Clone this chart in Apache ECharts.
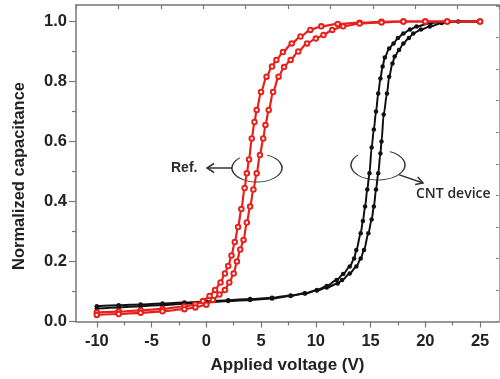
<!DOCTYPE html>
<html>
<head>
<meta charset="utf-8">
<script src="https://cdn.jsdelivr.net/npm/echarts@6/dist/echarts.min.js"></script>
<style>
  html, body { margin: 0; padding: 0; background: #fff; }
  #chart { width: 500px; height: 379px; }
</style>
</head>
<body>
<div id="chart"></div>
<script>
// Ref. device, two sweep branches (voltage V, normalized capacitance)
const refUpV = [-10,-8,-6,-4,-2,-1,-0.3,0.3,0.8,1.3,1.7,2,2.3,2.6,2.9,3.2,3.5,3.7,3.9,4.15,4.4,4.6,5,5.5,6,6.4,7,7.8,8.6,9.5,10.5,12,14,16,18,20,22,25];
const refUpC = [0.03,0.033,0.037,0.042,0.05,0.057,0.068,0.085,0.105,0.13,0.16,0.185,0.22,0.265,0.315,0.375,0.445,0.494,0.54,0.61,0.665,0.705,0.765,0.816,0.85,0.872,0.898,0.927,0.95,0.972,0.984,0.992,0.996,0.999,1,1,1,1];
const refDownV = [-10,-8,-6,-4,-2,-1,0,0.6,1.2,1.7,2.1,2.5,2.8,3.1,3.4,3.7,4,4.3,4.6,4.9,5.2,5.4,5.7,6.1,6.6,7.1,7.7,8.4,9.2,10,10.7,11.5,12.5,14,16,18,20,22,25];
const refDownC = [0.022,0.025,0.029,0.034,0.041,0.047,0.056,0.072,0.09,0.105,0.13,0.16,0.2,0.24,0.272,0.33,0.383,0.44,0.494,0.555,0.61,0.655,0.705,0.765,0.816,0.848,0.872,0.9,0.927,0.943,0.955,0.972,0.984,0.993,0.997,1,1,1,1];

// CNT device, two sweep branches
const cntUpV = [-10,-8,-6,-4,-2,0,2,4,6,7.7,9,10.1,11,11.9,12.5,13.1,13.5,13.7,14.1,14.3,14.5,14.7,14.9,15.1,15.3,15.5,15.7,15.9,16.1,16.3,16.7,17.1,17.5,18,18.6,19.2,20.5,22,25];
const cntUpC = [0.043,0.047,0.051,0.055,0.059,0.064,0.068,0.072,0.077,0.085,0.094,0.105,0.118,0.138,0.158,0.183,0.21,0.238,0.294,0.335,0.383,0.44,0.494,0.58,0.64,0.7,0.76,0.81,0.85,0.88,0.91,0.927,0.945,0.96,0.973,0.983,0.995,1,1];
const cntDownV = [-10,-8,-6,-4,-2,0,2,4,6,7.7,9,10.1,11,12,12.4,13.1,13.7,14.1,14.4,14.8,15.1,15.3,15.5,15.7,15.9,16,16.2,16.5,16.7,17,17.2,17.6,18,18.5,18.9,19.6,20.4,21.5,23,25];
const cntDownC = [0.051,0.054,0.057,0.06,0.063,0.067,0.071,0.075,0.079,0.087,0.093,0.103,0.113,0.127,0.138,0.16,0.183,0.21,0.238,0.294,0.34,0.383,0.44,0.494,0.56,0.6,0.69,0.76,0.816,0.86,0.883,0.905,0.927,0.945,0.96,0.973,0.983,0.995,1,1];

// ticks
const xMajor = [-10,-5,0,5,10,15,20,25];
const xMinor = [-7.5,-2.5,2.5,7.5,12.5,17.5,22.5];
const yMajor = [0,0.2,0.4,0.6,0.8,1.0];
const yMinor = [0.1,0.3,0.5,0.7,0.9];

const zip = (xs, ys) => xs.map((x, i) => [x, ys[i]]);

const chart = echarts.init(document.getElementById('chart'));

const axisCol = '#777';
const txtCol = '#222';
const font = 'Liberation Sans, Arial, sans-serif';
const deg = Math.PI / 180;

const hidden = { show: false };

function blackSeries(name, data) {
  return {
    name, type: 'line', data,
    xAxisIndex: 0, yAxisIndex: 0,
    smooth: 0.3, smoothMonotone: 'x',
    symbol: 'circle', symbolSize: 4.5,
    itemStyle: { color: '#111' },
    lineStyle: { color: '#111', width: 2 },
    z: 3
  };
}
function redSeries(name, data) {
  return {
    name, type: 'line', data,
    xAxisIndex: 0, yAxisIndex: 0,
    smooth: 0.3, smoothMonotone: 'x',
    symbol: 'emptyCircle', symbolSize: 4.5,
    itemStyle: { color: '#e8201c', borderWidth: 1.2 },
    lineStyle: { color: '#e8201c', width: 2.2 },
    z: 4
  };
}

// open ellipse drawn as a scaled arc
function ellipse(cx, cy, rx, ry, a0, a1) {
  return {
    type: 'group', x: cx, y: cy, scaleY: ry / rx, z: 10,
    children: [{
      type: 'arc',
      shape: { cx: 0, cy: 0, r: rx, startAngle: a0 * deg, endAngle: a1 * deg, clockwise: true },
      style: { fill: null, stroke: '#333', lineWidth: 1.5, strokeNoScale: true }
    }]
  };
}

const option = {
  animation: false,
  grid: { left: 76, right: 1, top: 5, bottom: 57.5 },
  xAxis: [
    {
      type: 'value', position: 'bottom', min: -11.9, max: 26.73,
      name: 'Applied voltage (V)', nameLocation: 'middle', nameGap: 35,
      nameTextStyle: { fontFamily: font, fontWeight: 'bold', fontSize: 17, color: txtCol },
      axisLine: { onZero: false, lineStyle: { color: axisCol, width: 1.5 } },
      axisTick: { show: true, length: 6, customValues: xMajor, lineStyle: { color: axisCol, width: 1.2 } },
      axisLabel: { customValues: xMajor, margin: 11, fontFamily: font, fontWeight: 'bold', fontSize: 16.5, color: txtCol },
      splitLine: hidden
    },
    {
      type: 'value', position: 'bottom', min: -11.9, max: 26.73,
      axisLine: { show: false, onZero: false },
      axisTick: { show: true, length: 4, customValues: xMinor, lineStyle: { color: axisCol, width: 1.2 } },
      axisLabel: hidden, splitLine: hidden
    },
    {
      type: 'value', position: 'top', min: 0, max: 424, interval: 42.5,
      axisLine: { show: true, onZero: false, lineStyle: { color: axisCol, width: 1.5 } },
      axisTick: { show: true, inside: true, length: 4, lineStyle: { color: axisCol, width: 1.2 } },
      axisLabel: hidden, splitLine: hidden
    }
  ],
  yAxis: [
    {
      type: 'value', position: 'left', min: 0, max: 1.055,
      axisLine: { show: true, onZero: false, lineStyle: { color: axisCol, width: 1.5 } },
      axisTick: { show: true, length: 7, customValues: yMajor, lineStyle: { color: axisCol, width: 1.2 } },
      axisLabel: {
        customValues: yMajor, margin: 9,
        formatter: v => v.toFixed(1),
        fontFamily: font, fontWeight: 'bold', fontSize: 16.5, color: txtCol
      },
      splitLine: hidden
    },
    {
      type: 'value', position: 'left', min: 0, max: 1.055,
      axisLine: { show: false, onZero: false },
      axisTick: { show: true, length: 4, customValues: yMinor, lineStyle: { color: axisCol, width: 1.2 } },
      axisLabel: hidden, splitLine: hidden
    },
    {
      type: 'value', position: 'right', min: 0, max: 316, interval: 31.5,
      axisLine: { show: true, onZero: false, lineStyle: { color: '#aaa', width: 1 } },
      axisTick: { show: true, inside: true, length: 3, lineStyle: { color: '#888', width: 1 } },
      axisLabel: hidden, splitLine: hidden
    }
  ],
  series: [
    blackSeries('CNT up', zip(cntUpV, cntUpC)),
    blackSeries('CNT down', zip(cntDownV, cntDownC)),
    redSeries('Ref up', zip(refUpV, refUpC)),
    redSeries('Ref down', zip(refDownV, refDownC))
  ],
  graphic: [
    // y-axis title
    { type: 'text', x: 19, y: 176, rotation: Math.PI / 2, z: 10,
      style: { text: 'Normalized capacitance', align: 'center', verticalAlign: 'middle',
               font: 'bold 16.5px Liberation Sans, Arial, sans-serif', fill: txtCol } },
    // Ref. annotation
    { type: 'text', left: 171, top: 161, z: 10,
      style: { text: 'Ref.', font: 'bold 14px Liberation Sans, Arial, sans-serif', fill: '#2a2a2a' } },
    ellipse(257, 168, 25, 14, -66, 227),
    { type: 'polyline', z: 10,
      shape: { points: [[232, 168], [207, 168]] },
      style: { stroke: '#333', lineWidth: 1.5 } },
    { type: 'polyline', z: 10,
      shape: { points: [[214, 163.5], [207, 168], [214, 172.5]] },
      style: { fill: null, stroke: '#333', lineWidth: 1.5 } },
    // CNT device annotation
    ellipse(378, 165, 27, 15, -63.6, 222),
    { type: 'polyline', z: 10,
      shape: { points: [[398.7, 174.6], [423, 183]] },
      style: { stroke: '#333', lineWidth: 1.5 } },
    { type: 'polyline', z: 10,
      shape: { points: [[415.1, 184.5], [423, 183], [417.7, 176.9]] },
      style: { fill: null, stroke: '#333', lineWidth: 1.5 } },
    { type: 'text', left: 416, top: 187, z: 10,
      style: { text: 'CNT device', font: '600 14px Open Sans, sans-serif', fill: '#2a2a2a' } }
  ]
};

chart.setOption(option);
</script>
</body>
</html>
